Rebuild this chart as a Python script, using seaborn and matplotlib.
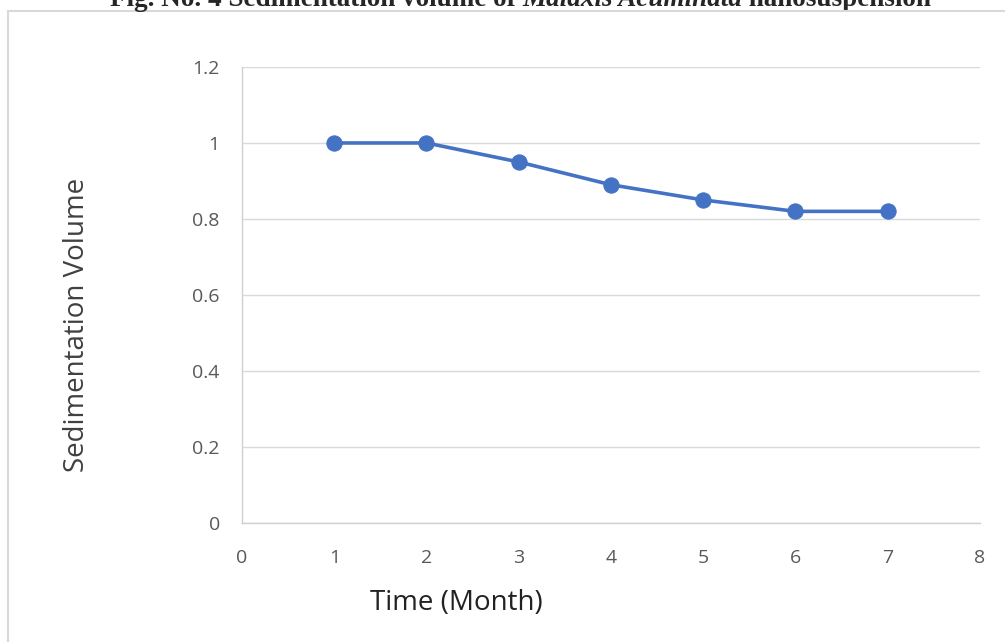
import matplotlib
matplotlib.use("Agg")
import matplotlib.pyplot as plt
from matplotlib.patches import Rectangle
import pandas as pd
import seaborn as sns

months = [1, 2, 3, 4, 5, 6, 7]
sed_volume = [1.0, 1.0, 0.95, 0.89, 0.85, 0.82, 0.82]
x_ticks = [0, 1, 2, 3, 4, 5, 6, 7, 8]
y_ticks = [0, 0.2, 0.4, 0.6, 0.8, 1.0, 1.2]
y_tick_labels = ["0", "0.2", "0.4", "0.6", "0.8", "1", "1.2"]

sns.set_style("white")
plt.rcParams['font.family'] = ['Open Sans', 'DejaVu Sans']

df = pd.DataFrame({'month': months, 'sed': sed_volume})

fig = plt.figure(figsize=(10.05, 6.42), dpi=100)
ax = fig.add_axes([0.2408, 0.1854, 0.7343, 0.7103])

sns.lineplot(data=df, x='month', y='sed', ax=ax, color='#4472C4', linewidth=2.6,
             marker='o', markersize=11, markeredgecolor='#4472C4')

ax.set_xlim(0, 8)
ax.set_ylim(0, 1.2)
ax.set_xticks(x_ticks)
ax.set_yticks(y_ticks)
ax.set_yticklabels(y_tick_labels)
ax.grid(axis='y', color='#d9d9d9', linewidth=1)
ax.tick_params(axis='both', length=0, labelsize=14, labelcolor='#595959')
ax.tick_params(axis='x', pad=19)
ax.tick_params(axis='y', pad=16)
for s in ['top', 'right']:
    ax.spines[s].set_visible(False)
for s in ['left', 'bottom']:
    ax.spines[s].set_color('#d0d0d0')
    ax.spines[s].set_linewidth(1)

ax.set_xlabel('Time (Month)', fontsize=20, color='#222222')
ax.set_ylabel('Sedimentation Volume', fontsize=20, color='#404040')
ax.xaxis.set_label_coords(0.291, -0.145)
ax.yaxis.set_label_coords(-0.204, 0.434)

# outer chart frame (cut off at right and bottom)
fig.patches.append(Rectangle((8 / 1005, -0.2), 1.2, 1.2 - 11 / 642,
                             transform=fig.transFigure, fill=False,
                             edgecolor='#d9d9d9', linewidth=1.5))

# title, partially cut off at the top as in the source
t1 = fig.text(110 / 1005, 1 - 12 / 642, 'Fig. No. 4 Sedimentation volume of ',
              fontfamily='Liberation Serif', fontweight='bold', fontsize=19.5,
              va='bottom', ha='left')
t2 = ax.annotate('Malaxis Acuminata', xy=(1, 0), xycoords=t1,
                 fontfamily='Liberation Serif', fontweight='bold', fontstyle='italic',
                 fontsize=19.5, va='bottom', ha='left', annotation_clip=False)
ax.annotate(' nanosuspension', xy=(1, 0), xycoords=t2,
            fontfamily='Liberation Serif', fontweight='bold', fontsize=19.5,
            va='bottom', ha='left', annotation_clip=False)

fig.savefig('out.png', dpi=100)
